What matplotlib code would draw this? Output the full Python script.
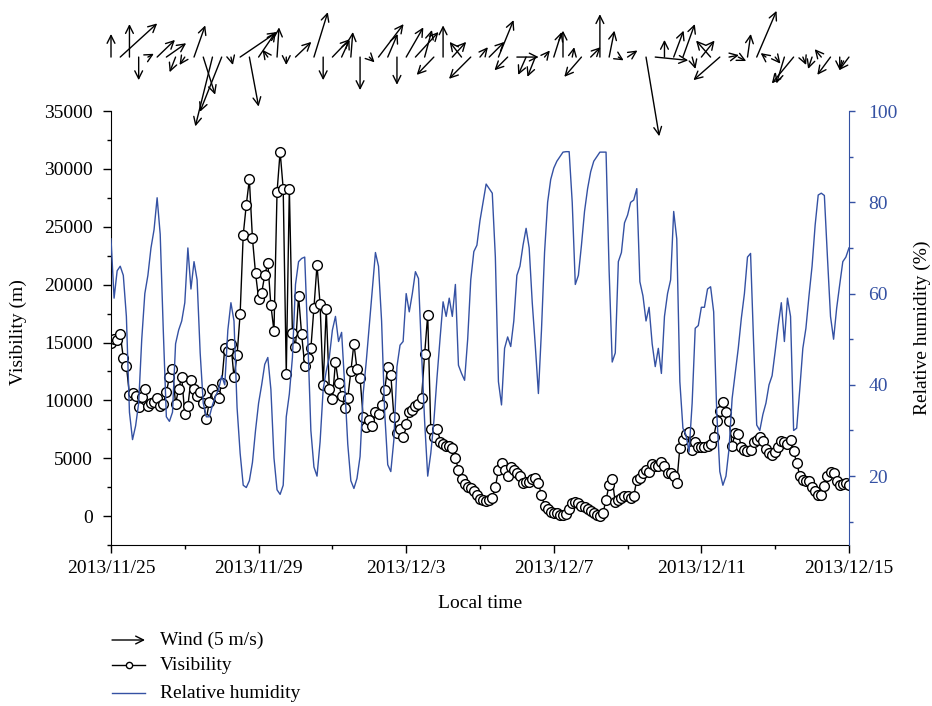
import numpy as np
import pandas as pd
import matplotlib
matplotlib.use('Agg')
import matplotlib.pyplot as plt
import matplotlib.dates as mdates
from matplotlib.ticker import FixedLocator, MultipleLocator, FuncFormatter
from matplotlib.lines import Line2D

plt.rcParams['font.family'] = ['Liberation Serif', 'DejaVu Serif']
plt.rcParams['font.size'] = 14

BLUE = '#3451a3'

# visibility (m), every 2 hours from 2013/11/25 00:00
visibility = [
    15000, 15300, 15200, 15700, 13700, 13000, 10500, 10600, 10400, 9400, 10300, 11000,
    9500, 9800, 9900, 10200, 9500, 9700, 10700, 12000, 12700, 9700, 11000, 12000,
    8800, 9500, 11800, 11000, 10400, 10700, 9800, 8400, 9900, 11000, 10500, 10200,
    11500, 14500, 14300, 14900, 12000, 13900, 17500, 24300, 26900, 29100, 24000, 21000,
    18800, 19300, 20800, 21900, 18200, 16000, 28000, 31500, 28300, 12300, 28300, 15800,
    14600, 19000, 15700, 13000, 13700, 14500, 18000, 21700, 18300, 11300, 17900, 11000,
    10100, 13300, 11500, 10400, 9300, 10200, 12500, 14900, 12700, 11900, 8600, 7700,
    8300, 7800, 9000, 8800, 9600, 10900, 12900, 12200, 8600, 7200, 7500, 6800,
    8000, 9000, 9200, 9500, 9700, 10200, 14000, 17400, 7500, 6800, 7500, 6400,
    6200, 6100, 6100, 5900, 5000, 4000, 3200, 2750, 2550, 2400, 2200, 1850,
    1500, 1350, 1300, 1350, 1600, 2500, 4000, 4600, 4000, 3500, 4200, 4000,
    3700, 3500, 2900, 2950, 2950, 3200, 3300, 2860, 1800, 900, 600, 380,
    260, 250, 120, 120, 200, 650, 1150, 1250, 1100, 900, 800, 650,
    400, 250, 120, -30, 260, 1400, 2700, 3200, 1200, 1400, 1600, 1700,
    1700, 1600, 1700, 3150, 3300, 3700, 4000, 3800, 4500, 4300, 4300, 4700,
    4300, 3700, 3700, 3500, 2900, 5900, 6600, 7100, 7300, 5700, 6400, 6000,
    6000, 6000, 6100, 6200, 6800, 8200, 9100, 9900, 9000, 8200, 6100, 7200,
    7100, 6000, 5700, 5600, 5700, 6400, 6600, 6800, 6500, 5800, 5450, 5300,
    5500, 6000, 6500, 6400, 6200, 6600, 5600, 4600, 3500, 3100, 3050, 3000,
    2550, 2150, 1850, 1850, 2600, 3500, 3800, 3750, 3000, 2650, 2800, 2900,
    2700,
]

# relative humidity (%), same times
humidity = [
    72, 59, 65, 66, 64, 55, 34, 28, 31, 36, 50, 60,
    64, 70, 74, 81, 73, 52, 33, 32, 34, 49, 52, 54,
    58, 70, 61, 67, 63, 47, 36, 33, 33, 35.6, 37.5, 39,
    42, 40, 52, 58, 54, 35, 25, 18, 17.5, 19, 23, 30,
    36, 40, 44.5, 46, 39, 24, 17, 16, 18, 33, 38, 46,
    62, 67, 67.7, 68, 50, 30, 22, 20, 27.5, 39, 43, 46,
    52, 55, 49.5, 51.5, 40, 27, 19, 17.3, 19.5, 24.3, 38, 45,
    53, 61, 69, 66, 54, 34, 22.5, 21, 28, 44, 48.7, 49.5,
    60, 56, 60, 64.8, 63.3, 47, 32, 20, 25, 32, 41.4, 50,
    58.2, 55, 59, 55, 62, 44.3, 42.5, 41, 50, 63, 69.2, 70.6,
    76, 80, 84, 83, 82, 68, 40.7, 35.6, 48, 50.5, 48.4, 54,
    64, 66, 70.6, 74.3, 70, 58, 48.5, 38.1, 52, 69, 80, 85,
    87.5, 89, 90, 91, 91.1, 91.1, 80, 62, 64, 70.6, 78, 83,
    86.7, 89, 90, 91, 91, 91, 65, 45, 47, 67, 69, 75.5,
    77.2, 80, 80.5, 83, 62.6, 59.5, 54, 57, 49, 44, 48, 42.5,
    55, 60, 63, 78, 72, 40.7, 30.5, 29, 25.3, 36, 52.4, 53,
    57, 57, 61, 61.5, 56, 34, 21, 18, 20, 26, 37, 42.5,
    48, 54.6, 60, 68, 68.8, 49, 31.2, 30, 33.5, 36, 40, 42,
    47.3, 53, 58, 49.5, 59, 55, 30, 30.5, 39, 48, 52.4, 59.5,
    66, 75, 81.6, 82, 81.5, 68, 55, 50, 56.8, 62, 67, 68,
    70,
]

# wind components (m/s), every 6 hours
wind_u = [
    0, 5.6, 0, 0, 0.9, 2.7, 3.0, -0.9, -0.8, 1.7,
    1.8, -2.6, -3.3, 0.3, 5.6, 1.4, 2.6, -0.8, 0.3, 0,
    2.4, np.nan, 2.1, 0, 2.6, 1.2, 0.3, 0, 0.8, 3.8,
    1.5, 0, 2.6, 3.5, 1.1, -2.6, 0, 2.1, -1.8, -3.3,
    1.2, 2.3, 2.3, -2.0, 3.3, -1.2, -1.2, 0.8, 1.2, 0,
    0.3, -2.6, 1.5, 0, 0.8, 0.8, 1.5, np.nan, 2.0, 5.0,
    0, 1.5, 1.8, 0.5, 2.0, -2.2, -4.0, 1.5, 1.2, 0.5,
    3.0, -0.8, 0.8, -1.2, -3.3, 0.5, -0.6, -1.0, -2.0, 0,
    -1.5,
]
wind_v = [
    3.5, 5.1, 5.0, -3.5, 0.5, 2.6, 2.1, -2.3, -1.2, 4.8,
    -5.7, -10.5, -8.3, -1.2, 3.8, -7.5, 3.8, 1.1, 4.5, -1.2,
    2.3, np.nan, 6.8, -3.5, 2.7, 2.6, 3.8, -5.0, -0.8, 5.0,
    3.5, -4.2, 4.5, 3.8, 4.1, -2.7, 4.8, 2.3, 2.3, -3.3,
    1.5, 2.3, 5.6, -2.0, 0, -2.7, -3.0, 1.0, 3.8, 4.0,
    1.5, -3.0, 1.5, 6.5, 4.0, -0.5, 1.0, np.nan, -12.0, -0.5,
    2.6, 4.0, 5.0, -1.8, 2.5, 2.5, -3.5, 0.3, -0.6, 3.5,
    7.0, 0.6, -1.0, -4.0, -4.0, -1.2, -1.8, 1.2, -2.7, -2.0,
    -2.0,
]

times = pd.date_range('2013-11-25', periods=len(visibility), freq='2h')
wind_times = pd.date_range('2013-11-25', periods=len(wind_u), freq='6h')
major_days = pd.date_range('2013-11-25', '2013-12-15', freq='4D')
minor_days = pd.date_range('2013-11-25', '2013-12-15', freq='2D')

fig = plt.figure(figsize=(9.32, 7.06), dpi=100)
ax = fig.add_axes([0.1191, 0.2280, 0.7918, 0.6147])
ax2 = ax.twinx()

ax.plot(times, visibility, '-o', color='black', lw=1, ms=7, mfc='white',
        mec='black', mew=1)
ax2.plot(times, humidity, color=BLUE, lw=1.0)

ax.set_xlim(mdates.date2num(major_days[0]), mdates.date2num(major_days[-1]))
ax.set_ylim(-2500, 35000)
ax2.set_ylim(4.9, 100)

ax.xaxis.set_major_locator(FixedLocator(mdates.date2num(major_days)))
ax.xaxis.set_minor_locator(FixedLocator(mdates.date2num(minor_days)))


def date_label(x, pos):
    d = mdates.num2date(x)
    return f"{d.year}/{d.month}/{d.day}"


ax.xaxis.set_major_formatter(FuncFormatter(date_label))
ax.yaxis.set_major_locator(MultipleLocator(5000))
ax.yaxis.set_minor_locator(MultipleLocator(2500))
ax2.yaxis.set_major_locator(MultipleLocator(20))
ax2.yaxis.set_minor_locator(MultipleLocator(10))

ax.tick_params(axis='x', which='major', direction='out', length=6, width=1, pad=5)
ax.tick_params(axis='y', which='major', direction='out', length=6, width=1, pad=7)
ax.tick_params(which='minor', direction='out', length=3, width=1)
ax2.tick_params(axis='y', which='major', direction='out', length=4, width=1,
                colors=BLUE, pad=10)
ax2.tick_params(axis='y', which='minor', direction='out', length=3, width=1,
                colors=BLUE)

for a in (ax, ax2):
    a.spines['top'].set_visible(False)
ax.spines['right'].set_visible(False)
ax2.spines['left'].set_visible(False)
ax2.spines['bottom'].set_visible(False)
ax2.spines['right'].set_color(BLUE)

ax.set_ylabel('Visibility (m)', va='center')
ax.yaxis.set_label_coords(-0.126, 0.49)
ax2.set_ylabel('Relative humidity (%)', va='center')
ax2.yaxis.set_label_coords(1.099, 0.5)
ax.set_xlabel('Local time', va='center')
ax.xaxis.set_label_coords(0.5, -0.1336)

# wind arrows above the axes, tails on one row
PT_PER_MS = 33 / 5 * 0.72
tail_y = 1.1244
trans = ax.get_xaxis_transform()
for t, u, v in zip(wind_times, wind_u, wind_v):
    if np.isnan(u):
        continue
    ax.annotate('', xy=(mdates.date2num(t), tail_y), xycoords=trans,
                xytext=(u * PT_PER_MS, v * PT_PER_MS), textcoords='offset points',
                arrowprops=dict(arrowstyle='<-,head_length=0.4,head_width=0.2',
                                lw=1, color='black', shrinkA=0, shrinkB=0,
                                mutation_scale=14),
                annotation_clip=False)

# legend below the plot
W, H = 932, 706
ax.annotate('', xy=(145 / W, 1 - 640 / H), xycoords='figure fraction',
            xytext=(112 / W, 1 - 640 / H), textcoords='figure fraction',
            arrowprops=dict(arrowstyle='->,head_length=0.4,head_width=0.2',
                            lw=1, color='black', shrinkA=0, shrinkB=0,
                            mutation_scale=14))
fig.text(160 / W, 1 - 640 / H, 'Wind (5 m/s)', va='center')
fig.add_artist(Line2D([112 / W, 128.5 / W, 145 / W], [1 - 665 / H] * 3,
                      transform=fig.transFigure, color='black', lw=1,
                      marker='o', markevery=[1], ms=4.5, mfc='white', mec='black'))
fig.text(160 / W, 1 - 665 / H, 'Visibility', va='center')
fig.add_artist(Line2D([112 / W, 145 / W], [1 - 693 / H] * 2,
                      transform=fig.transFigure, color=BLUE, lw=1.0))
fig.text(160 / W, 1 - 693 / H, 'Relative humidity', va='center')

fig.savefig('out.png', dpi=100)
